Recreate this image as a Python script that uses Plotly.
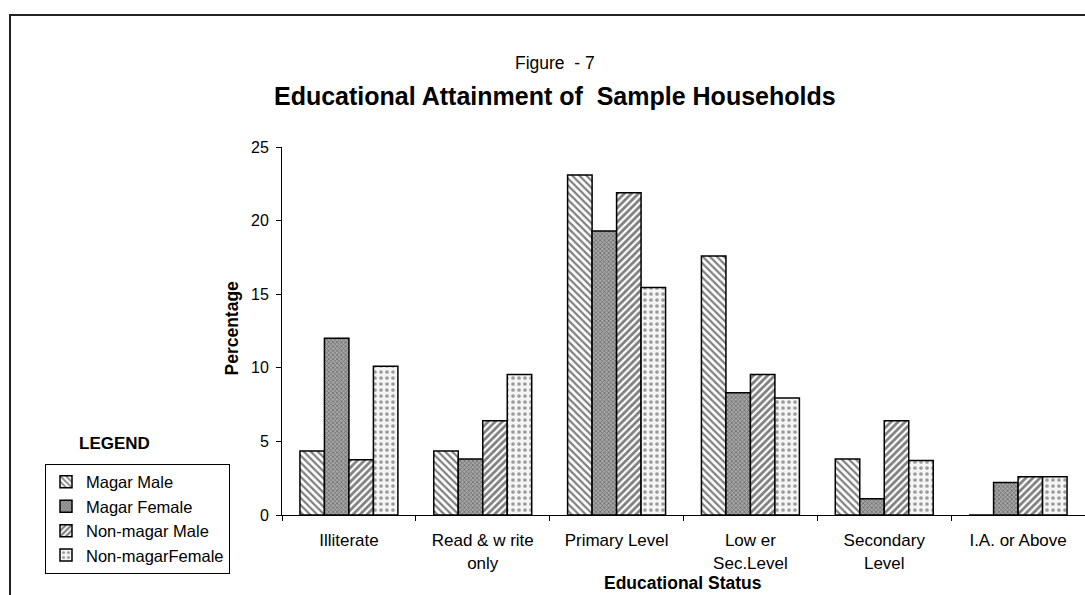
import plotly.graph_objects as go

# Canvas and plot-area geometry (pixels)
W, H = 1085, 595
ML, MR, MT, MB = 282, 0, 147, 80
PW = W - ML - MR
PH = H - MT - MB


def px_x(x):
    return (x - ML) / PW


def px_y(y):
    return (H - MB - y) / PH


FONT = "Arial, Liberation Sans, sans-serif"

categories = [
    "Illiterate",
    "Read & w rite<br>only",
    "Primary Level",
    "Low er<br>Sec.Level",
    "Secondary<br>Level",
    "I.A. or Above",
]
magar_male = [4.35, 4.35, 23.1, 17.6, 3.8, 0]
magar_female = [12.0, 3.8, 19.3, 8.3, 1.1, 2.2]
non_magar_male = [3.75, 6.4, 21.9, 9.55, 6.4, 2.6]
non_magar_female = [10.1, 9.55, 15.45, 7.95, 3.7, 2.6]
series_names = ["Magar Male", "Magar Female", "Non-magar Male", "Non-magarFemale"]
y_ticks = [0, 5, 10, 15, 20, 25]

patterns = [
    dict(shape="\\", fgcolor="black", bgcolor="white", size=5, solidity=0.45),
    dict(shape="x", fgcolor="#333333", bgcolor="#a6a6a6", size=3, solidity=0.45),
    dict(shape="/", fgcolor="black", bgcolor="white", size=5, solidity=0.55),
    dict(shape=".", fgcolor="#444444", bgcolor="#f5f5f5", size=6, solidity=0.3),
]

fig = go.Figure()
for name, vals, pat in zip(series_names,
                           [magar_male, magar_female, non_magar_male, non_magar_female],
                           patterns):
    fig.add_trace(go.Bar(
        name=name,
        x=categories,
        y=vals,
        marker=dict(color=pat["bgcolor"], line=dict(color="black", width=1.5), pattern=pat),
    ))

fig.update_layout(
    width=W,
    height=H,
    margin=dict(l=ML, r=MR, t=MT, b=MB, pad=0),
    paper_bgcolor="white",
    plot_bgcolor="white",
    barmode="group",
    bargap=0.268,
    bargroupgap=0,
    font=dict(family=FONT, color="black", size=16),
    showlegend=True,
    legend=dict(
        x=px_x(45), y=px_y(518.5), xanchor="left", yanchor="middle",
        bgcolor="white", bordercolor="black", borderwidth=1,
        font=dict(family=FONT, size=16.5, color="black"),
        itemwidth=30, tracegroupgap=0,
    ),
    xaxis=dict(
        showline=True, linecolor="black", linewidth=1,
        ticks="outside", tickson="boundaries", ticklen=5, tickcolor="black",
        tickfont=dict(family=FONT, size=17, color="black"),
        ticklabelstandoff=10,
        showgrid=False, zeroline=False,
        range=[-0.5, 5.5],
    ),
    yaxis=dict(
        range=[0, 25], tickvals=y_ticks,
        showline=True, linecolor="black", linewidth=1,
        ticks="outside", ticklen=5, tickcolor="black",
        tickfont=dict(family=FONT, size=16, color="black"),
        ticklabelstandoff=4,
        showgrid=False, zeroline=False,
    ),
    shapes=[
        dict(type="rect", xref="paper", yref="paper",
             x0=px_x(10), x1=px_x(1100), y0=px_y(610), y1=px_y(15),
             line=dict(color="#222222", width=2), fillcolor="rgba(0,0,0,0)", layer="below"),
    ],
    annotations=[
        dict(text="Figure  - 7", xref="paper", yref="paper",
             x=px_x(555), y=px_y(63), xanchor="center", yanchor="middle",
             showarrow=False, font=dict(family=FONT, size=17.5, color="black")),
        dict(text="<b>Educational Attainment of  Sample Households</b>",
             xref="paper", yref="paper",
             x=px_x(555), y=px_y(96), xanchor="center", yanchor="middle",
             showarrow=False, font=dict(family=FONT, size=25, color="black")),
        dict(text="<b>Percentage</b>", xref="paper", yref="paper",
             x=px_x(231.5), y=px_y(328), xanchor="center", yanchor="middle",
             textangle=-90, showarrow=False,
             font=dict(family=FONT, size=17.5, color="black")),
        dict(text="<b>Educational Status</b>", xref="paper", yref="paper",
             x=px_x(683), y=px_y(583), xanchor="center", yanchor="middle",
             showarrow=False, font=dict(family=FONT, size=17.5, color="black")),
        dict(text="<b>LEGEND</b>", xref="paper", yref="paper",
             x=px_x(114.5), y=px_y(443), xanchor="center", yanchor="middle",
             showarrow=False, font=dict(family=FONT, size=17, color="black")),
    ],
)

fig.write_html("out.html")
